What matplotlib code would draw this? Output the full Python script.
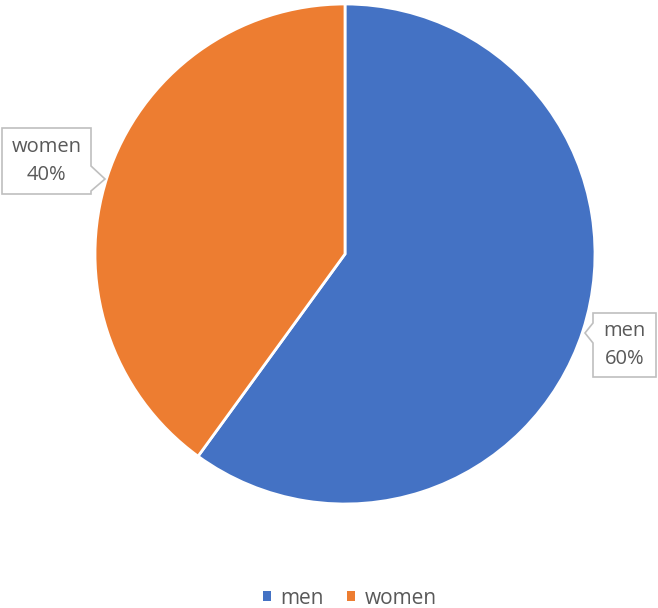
import numpy as np
import matplotlib
matplotlib.use('Agg')
import matplotlib.pyplot as plt
from matplotlib.patches import Polygon, Patch
from matplotlib.transforms import IdentityTransform

labels = ['men', 'women']
values = [60, 40]
colors = ['#4472C4', '#ED7D31']

W, H = 658, 608
plt.rcParams['font.family'] = ['Open Sans', 'DejaVu Sans']

fig = plt.figure(figsize=(W / 100, H / 100), dpi=100)
ax = fig.add_axes([95 / W, 1 - 504 / H, 500 / W, 500 / H])
wedges, _ = ax.pie(values, colors=colors, startangle=90, counterclock=False,
                   wedgeprops=dict(edgecolor='white', linewidth=2))
ax.set_xlim(-1, 1)
ax.set_ylim(-1, 1)
ax.set_aspect('equal')


# callout: box (left, top, right, bottom) in pixels from top-left, pointer side
def callout(text, box, tip, base, side):
    x0, y0, x1, y1 = box
    f = lambda x, y: (x, H - y)
    if side == 'right':
        pts = [f(x0, y0), f(x1, y0), f(x1, base[0]), f(*tip), f(x1, base[1]),
               f(x1, y1), f(x0, y1)]
    else:
        pts = [f(x0, y0), f(x1, y0), f(x1, y1), f(x0, y1), f(x0, base[1]),
               f(*tip), f(x0, base[0])]
    fig.add_artist(Polygon(pts, closed=True, transform=IdentityTransform(),
                           facecolor='white', edgecolor='#BFBFBF', linewidth=1.2))
    fig.text((x0 + x1) / 2 / W, 1 - (y0 + y1) / 2 / H, text, ha='center', va='center',
             fontsize=14.5, color='#595959', linespacing=1.6)


callout(f'{labels[1]}\n{values[1]}%', (2, 128, 91, 194), (105, 179), (166, 191), 'right')
callout(f'{labels[0]}\n{values[0]}%', (593, 313, 656, 377), (585, 333), (323, 343), 'left')

handles = [Patch(facecolor=c, edgecolor='none') for c in colors]
leg = fig.legend(handles, labels, loc='center', bbox_to_anchor=(350 / W, 1 - 598 / H),
                 ncol=2, frameon=False, fontsize=15, handlelength=0.4, handleheight=0.4,
                 handletextpad=0.45, columnspacing=1.1, labelcolor='#595959')

fig.savefig('out.png', dpi=100)
